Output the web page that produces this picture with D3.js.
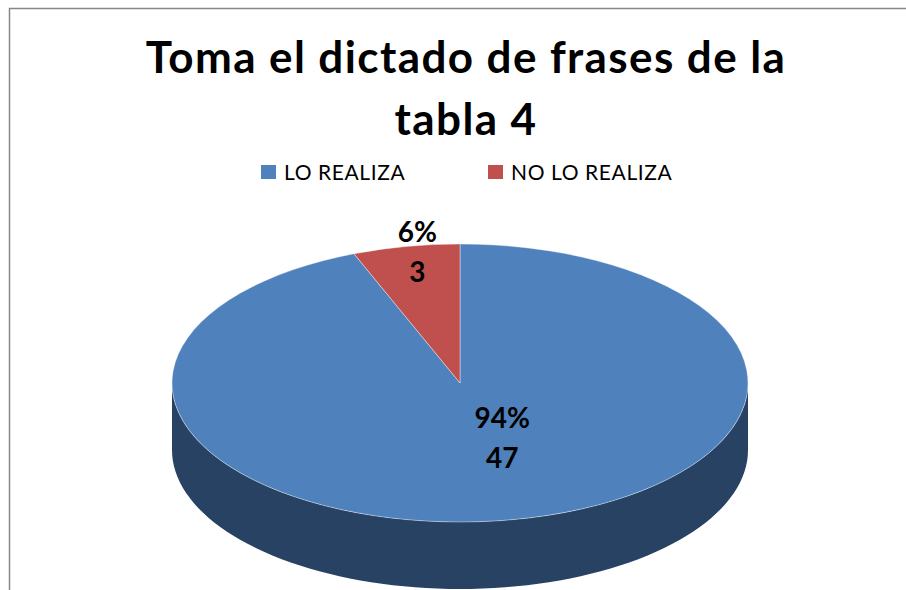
<!DOCTYPE html>
<html>
<head>
<meta charset="utf-8">
<script src="https://cdn.jsdelivr.net/npm/d3@7"></script>
<style>
  body { margin: 0; background: #fff; }
  svg { display: block; font-family: Lato, "Open Sans", sans-serif; }
</style>
</head>
<body>
<svg id="chart" width="906" height="590"></svg>
<script>
// data
const categories = ["LO REALIZA", "NO LO REALIZA"];
const counts = [47, 3];
const percents = ["94%", "6%"];
const titleLines = ["Toma el dictado de frases de la", "tabla 4"];

const topColors = ["#4f81bd", "#c0504d"];
const sideColors = ["#284263", "#7a2f2d"];

const width = 906, height = 590;
const svg = d3.select("#chart");

// chart frame (only top/left edges are visible)
svg.append("rect")
    .attr("x", 9.5).attr("y", 8.5)
    .attr("width", 1000).attr("height", 1000)
    .attr("fill", "none")
    .attr("stroke", "#888")
    .attr("stroke-width", 1.5);

// Title _____________________________________
svg.selectAll(".title")
  .data(titleLines)
  .join("text")
    .attr("class", "title")
    .attr("x", 466)
    .attr("y", (d, i) => 73 + i * 62)
    .attr("text-anchor", "middle")
    .style("font-size", "44px")
    .style("letter-spacing", "1.4px")
    .style("font-weight", "bold")
    .text(d => d);

// Legend _____________________________________
const legendX = d3.scaleOrdinal().domain(categories).range([261, 488]);
const legend = svg.selectAll(".legend")
  .data(categories)
  .join("g")
    .attr("class", "legend")
    .attr("transform", d => `translate(${legendX(d)},165)`);

legend.append("rect")
    .attr("width", 15).attr("height", 14)
    .attr("fill", (d, i) => topColors[i]);

legend.append("text")
    .attr("x", 23).attr("y", 15)
    .style("font-size", "21px")
    .style("letter-spacing", "0.6px")
    .text(d => d);

// 3D pie _____________________________________
const cx = 460, cy = 383, rx = 288, ry = 139, depth = 67;

const pie = d3.pie().sort(null).value(d => d);
const slices = pie(counts);

// point on the ellipse for a d3 pie angle (0 = 12 o'clock, clockwise)
function pt(a, dy) {
  return [cx + rx * Math.sin(a), cy - ry * Math.cos(a) + dy];
}

// side walls: only the front half (angles between PI/2 and 3PI/2) shows
const side = svg.append("g");
slices.forEach(function(s, i) {
  const a0 = Math.max(s.startAngle, Math.PI / 2);
  const a1 = Math.min(s.endAngle, Math.PI * 1.5);
  if (a1 <= a0) return;
  const steps = 80;
  const angles = d3.range(steps + 1).map(k => a0 + (a1 - a0) * k / steps);
  const pts = angles.map(a => pt(a, 0))
    .concat(angles.slice().reverse().map(a => pt(a, depth)));
  side.append("path")
      .attr("d", d3.line()(pts) + "Z")
      .attr("fill", sideColors[i]);
});

// top face: circular arcs squashed into an ellipse
const arc = d3.arc().innerRadius(0).outerRadius(rx);
svg.append("g")
    .attr("transform", `translate(${cx},${cy}) scale(1,${ry / rx})`)
  .selectAll("path")
  .data(slices)
  .join("path")
    .attr("d", arc)
    .attr("fill", (d, i) => topColors[i])
    .attr("stroke", "#fff")
    .attr("stroke-width", 0.4)
    .attr("vector-effect", "non-scaling-stroke");

// Labels _____________________________________
const labels = svg.append("g").selectAll("g")
  .data(slices)
  .join("g")
    .attr("transform", function(d) {
      const mid = (d.startAngle + d.endAngle) / 2;
      // small slices get their label near the rim
      const small = (d.endAngle - d.startAngle) < 0.5;
      const f = small ? 0.92 : 0.45;
      const p = [cx + rx * f * Math.sin(mid), cy - ry * f * Math.cos(mid)];
      p[0] += small ? 7 : 18;
      p[1] += small ? -5 : -6;
      return `translate(${p})`;
    });

labels.append("text")
    .attr("text-anchor", "middle")
    .attr("y", -10)
    .style("font-size", "28px")
    .style("font-weight", "bold")
    .text((d, i) => percents[i]);

labels.append("text")
    .attr("text-anchor", "middle")
    .attr("y", 30)
    .style("font-size", "28px")
    .style("font-weight", "bold")
    .text(d => d.data);
</script>
</body>
</html>
